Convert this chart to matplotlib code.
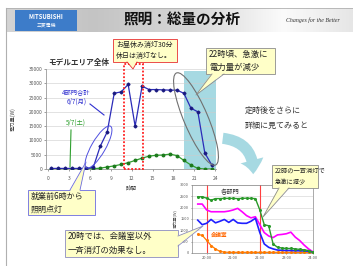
import numpy as np
import matplotlib
matplotlib.use('Agg')
import matplotlib.pyplot as plt
from matplotlib.patches import Rectangle, Ellipse, Polygon, FancyArrowPatch
from matplotlib.lines import Line2D
from matplotlib.colors import LinearSegmentedColormap

plt.rcParams['font.family'] = ['Noto Sans CJK JP', 'DejaVu Sans']

W, H = 353, 266

# ---------------- data ----------------
hours = [h + 0.5 for h in range(24)]
total_mon = [200, 200, 200, 200, 200, 200, 600, 8000, 13000, 26500, 27000, 29600,
             15000, 29000, 27800, 27800, 27700, 27600, 27600, 26500, 21300, 20000, 5600, 1400]
sat = [100, 100, 100, 100, 100, 100, 100, 300, 700, 1100, 1600, 2200,
       3000, 3800, 4500, 4800, 4900, 5200, 4700, 3000, 1400, 200, 0, 0]
main_xticks = [0, 3, 6, 9, 12, 15, 18, 21, 24]
main_yticks = [0, 5000, 10000, 15000, 20000, 25000, 30000, 35000]

inset_times = ["19:40", "19:50", "20:00", "20:10", "20:20", "20:30", "20:40", "20:50",
               "21:00", "21:10", "21:20", "21:30", "21:40", "21:50", "22:00", "22:10",
               "22:20", "22:30", "22:40", "22:50", "23:00", "23:10", "23:20", "23:30",
               "23:40", "23:50", "24:00"]
inset_green = [2480, 2480, 2420, 2330, 2400, 2400, 2410, 2410, 2410, 2400, 2410, 2420, 2410, 2400,
               1900, 1250, 1200, 400, 250, 220, 200, 200, 180, 160, 140, 110, 30]
inset_magenta = [2160, 2160, 1900, 1820, 1820, 1820, 1820, 1850, 1900, 1970, 1820, 1650, 1550, 1600,
                 1250, 900, 750, 680, 800, 820, 850, 920, 700, 550, 350, 180, 50]
inset_blue = [1450, 1250, 1310, 1480, 1330, 1400, 1480, 1350, 1480, 1330, 1310, 1310, 1400, 1530,
              900, 400, 250, 180, 130, 120, 110, 110, 100, 100, 90, 80, 40]
inset_orange = [820, 780, 560, 330, 180, 70, 40, 30, 30, 30, 30, 30, 30, 30,
                30, 30, 30, 30, 30, 30, 30, 30, 30, 30, 30, 30, 30]
inset_xticks = [20, 21, 22, 23, 24]
inset_xlabels = ["20:00", "21:00", "22:00", "23:00", "24:00"]
inset_yticks = [0, 500, 1000, 1500, 2000, 2500, 3000]

t_num = [int(s.split(':')[0]) + int(s.split(':')[1]) / 60 for s in inset_times]

FILL = '#ffffc8'


def px(x0, y0, x1, y1):
    return [x0 / W, 1 - y1 / H, (x1 - x0) / W, (y1 - y0) / H]


fig = plt.figure(figsize=(W / 100, H / 100), dpi=100)
fig.patch.set_facecolor('white')

# ---------------- main chart ----------------
ax = fig.add_axes(px(46, 69, 216, 169))
ax.set_xlim(-2 / 6.97, 168 / 6.97)
ax.set_ylim(0, 35000)
ax.set_axisbelow(True)
ax.axvspan(19.45, 24.1, ymin=0, ymax=0.98, color='#a6d9e2', zorder=0.3, lw=0)
ax.grid(axis='y', color='#cccccc', lw=0.4)
for s in ['top', 'right']:
    ax.spines[s].set_visible(False)
for s in ['left', 'bottom']:
    ax.spines[s].set_color('#999999')
    ax.spines[s].set_linewidth(0.6)
ax.set_xticks(main_xticks)
ax.set_yticks(main_yticks)
ax.tick_params(labelsize=3.5, length=1.2, width=0.4, colors='#555555', pad=1.5)
ax.tick_params(axis='x', pad=4)
ax.plot(hours, sat, color='#2e9e2e', lw=0.9, marker='o', ms=1.8,
        mfc='#1d7a1d', mec='#1d7a1d', zorder=3)
ax.plot(hours, total_mon, color='#2b2bb8', lw=0.9, marker='D', ms=1.5,
        mfc='#1a1a80', mec='#1a1a80', zorder=4)
ax.add_patch(Rectangle((10.85, 0), 2.85, 36600, fill=False, ec='#ff2020',
                       ls=(0, (1, 1)), lw=1.3, clip_on=False, zorder=5))
ax.set_ylabel('電力量(W)', fontsize=3.8, color='#444444', labelpad=5)
ax.yaxis.set_label_coords(-0.18, 0.5)
ax.set_xlabel('時間', fontsize=4, color='#444444', labelpad=2)

# ---------------- inset chart ----------------
ai = fig.add_axes(px(192, 185, 313, 253))
ai.set_xlim(19.45, 24.0)
ai.set_ylim(0, 3000)
ai.set_axisbelow(True)
ai.grid(axis='y', color='#d0d0d0', lw=0.4)
for s in ai.spines.values():
    s.set_color('#888888')
    s.set_linewidth(0.5)
ai.set_xticks(inset_xticks)
ai.set_xticklabels(inset_xlabels)
ai.set_yticks(inset_yticks)
ai.tick_params(labelsize=2.8, length=1.0, width=0.4, colors='#555555', pad=1.2)
ai.axvline(20, color='#ff4040', lw=0.8, zorder=2)
ai.axvline(22, color='#ff4040', lw=0.8, zorder=2)
ai.plot(t_num, inset_orange, color='#ff7a00', lw=0.9, marker='o', ms=1.2, zorder=3)
ai.plot(t_num, inset_magenta, color='#ff00ff', lw=1.2, zorder=4)
ai.plot(t_num, inset_blue, color='#2020ff', lw=1.2, zorder=5)
ai.plot(t_num, inset_green, color='#2a9a2a', lw=1.0, marker='o', ms=1.2, zorder=6)
ai.set_ylabel('電力量(W)', fontsize=3, color='#555555', labelpad=2)

# ---------------- overlay ----------------
ov = fig.add_axes([0, 0, 1, 1], zorder=10)
ov.patch.set_visible(False)
ov.axis('off')

cmap = LinearSegmentedColormap.from_list('ban', [(0, '#d4d4d4'), (0.25, '#c4c4c4'),
                                                  (0.55, '#d8d8d8'), (0.8, '#fbfbfb'),
                                                  (1, '#e6e6e6')])
grad = np.linspace(0, 1, 256).reshape(1, -1)
ov.imshow(grad, extent=[6, 353, 32, 8], aspect='auto', cmap=cmap, zorder=1)
ov.set_xlim(0, W)
ov.set_ylim(H, 0)
ov.add_line(Line2D([6, 6], [8, 266], color='#b0b0b0', lw=0.8))
ov.add_line(Line2D([6, 353], [8, 8], color='#b0b0b0', lw=0.6))

ov.add_patch(Rectangle((15, 10), 62, 21, fc='#3d7cc9', ec='none', zorder=2))
ov.text(46, 16.5, 'MITSUBISHI', color='white', fontsize=4.3, fontweight='bold',
        ha='center', va='center', zorder=3)
ov.text(46, 25, '三菱電機', color='white', fontsize=3.5, ha='center', va='center', zorder=3)
ov.text(182, 20, '照明：総量の分析', fontsize=10.5, fontweight='bold', color='#111111',
        ha='center', va='center', zorder=3)
ov.text(313, 20, 'Changes for the Better', fontsize=4.2, style='italic',
        family=['Liberation Serif', 'DejaVu Serif'], color='#333333',
        ha='center', va='center', zorder=3)

ov.text(48, 63, 'モデルエリア全体', fontsize=5.5, fontweight='bold', color='#333333',
        ha='left', va='center')
ov.text(76, 92, '4部門合計', fontsize=4.5, color='#3030d0', ha='center', va='center')
ov.text(77, 102, '6/7(月)', fontsize=4.5, color='#3030d0', ha='center', va='center')
ov.text(76, 123, '5/7(土)', fontsize=4.5, color='#30a030', ha='center', va='center')
ov.add_line(Line2D([90, 104], [104, 115], color='#3030d0', lw=0.8))
ov.add_line(Line2D([71, 70], [130, 167], color='#30a030', lw=0.8))

ov.add_patch(Ellipse((98.5, 147), 48, 14, angle=-60, fill=False, ec='#5050e0', lw=0.7))
ov.add_patch(Ellipse((196, 119), 100, 24, angle=67, fill=False, ec='#707070', lw=0.8))

ov.text(245, 110, '定時後をさらに', fontsize=5.8, color='#333333', ha='left', va='center')
ov.text(245, 125, '詳細に見てみると', fontsize=5.8, color='#333333', ha='left', va='center')

ov.add_patch(FancyArrowPatch((220, 138), (253, 177), connectionstyle='arc3,rad=-0.5',
                             arrowstyle='simple,head_length=1.0,head_width=1.7,tail_width=0.8',
                             mutation_scale=10, fc='#a6d9e2', ec='none', zorder=5))

ov.text(230, 192, '各部門', fontsize=4.5, color='#333333', ha='center', va='center', zorder=6)
ov.text(219, 235, '会議室', fontsize=4, color='#ff6600', fontweight='bold',
        ha='center', va='center', zorder=6)


def callout(box, base, tip, ec, lines, fs, inward):
    x0, y0, x1, y1 = box
    ov.add_patch(Rectangle((x0, y0), x1 - x0, y1 - y0, fc=FILL, ec=ec, lw=0.6, zorder=20))
    b0 = (base[0][0] + inward[0], base[0][1] + inward[1])
    b1 = (base[1][0] + inward[0], base[1][1] + inward[1])
    ov.add_patch(Polygon([b0, tip, b1], closed=True, fc=FILL, ec='none', zorder=21))
    ov.add_line(Line2D([base[0][0], tip[0], base[1][0]], [base[0][1], tip[1], base[1][1]],
                       color=ec, lw=0.6, zorder=22))
    n = len(lines)
    for i, l in enumerate(lines):
        ov.text(x0 + 3, y0 + (y1 - y0) * (i + 0.5) / n, l, fontsize=fs, color='#222222',
                ha='left', va='center', zorder=23)


callout((113, 39, 177, 62), [(127, 62), (137, 62)], (133, 69), '#e83030',
        ['お昼休み消灯30分', '休日は消灯なし。'], 5.0, (0, -1))
callout((206, 48, 275, 74), [(212, 74), (224, 74)], (196, 95), '#8c8c8c',
        ['22時頃、急激に', '電力量が減少'], 6.0, (0, -1))
callout((28, 190, 95, 215), [(70, 190), (80, 190)], (86, 162), '#6a6ae0',
        ['就業前6時から', '照明点灯'], 5.8, (0, 1))
callout((65, 230, 178, 257), [(178, 236), (178, 246)], (203, 226), '#8c8cc0',
        ['20時では、会議室以外', '一斉消灯の効果なし。'], 6.0, (-1, 0))
callout((272, 165, 318, 188), [(279, 188), (289, 188)], (263, 217), '#8c8c8c',
        ['22時の一斉消灯で', '急激に減少'], 4.5, (0, -1))

fig.savefig('out.png', dpi=100)
